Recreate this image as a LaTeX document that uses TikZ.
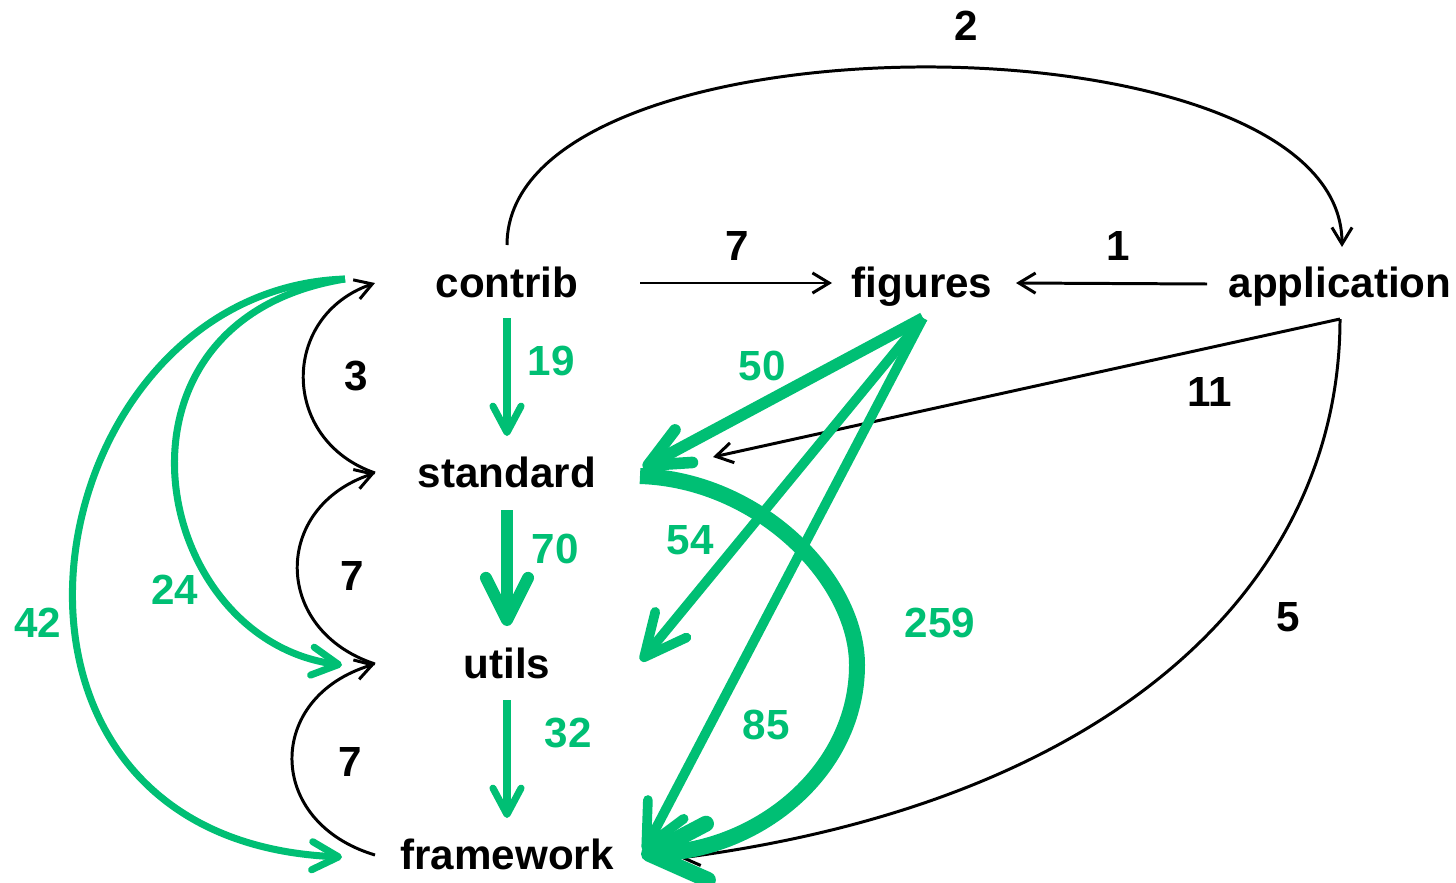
\documentclass[tikz,border=0pt]{standalone}
\usepackage{fontspec}
\setmainfont{Liberation Sans}
\usetikzlibrary{arrows.meta,calc}
\definecolor{grn}{RGB}{0,191,116}
\begin{document}
\begin{tikzpicture}[x=0.02cm,y=-0.02cm,
  lbl/.style={font=\fontsize{24}{28}\selectfont\bfseries, inner sep=0pt, text height=17pt, text depth=0pt},
  mod/.style={lbl},
  blab/.style={lbl, text=black},
  glab/.style={lbl, text=grn},
  blk/.style={draw=black, line width=1.7pt, -{Straight Barb[length=9.5pt,width=11.5pt]}},
  gA/.style={draw=grn, line width=4pt, -{Straight Barb[length=15pt,width=16pt,round]}},
  gB/.style={draw=grn, line width=5.5pt, -{Straight Barb[length=24pt,width=23pt,round]}},
  gC/.style={draw=grn, line width=6.6pt, -{Straight Barb[length=23pt,width=21pt,round]}},
  gD/.style={draw=grn, line width=6.8pt, -{Straight Barb[length=24pt,width=24pt,round]}},
  gE/.style={draw=grn, line width=9.1pt, -{Straight Barb[length=33pt,width=32pt,round]}}
]
\useasboundingbox (0,0) rectangle (1456,882);

% modules
\node[mod] (contrib)     at (507,283)  {contrib};
\node[mod] (figures)     at (922,283)  {figures};
\node[mod] (application) at (1340,283) {application};
\node[mod] (standard)    at (507,473)  {standard};
\node[mod] (utils)       at (507,664)  {utils};
\node[mod] (framework)   at (507,855)  {framework};

% black edges
\draw[blk] ($(contrib)+(133,0)$) -- ($(figures)+(-90,0)$);
\node[blab] (l7a) at (737,246) {7};
\draw[blk] ($(application)+(-133,1)$) -- ($(figures)+(94,0)$);
\node[blab] (l1) at (1118,246) {1};
\draw[blk] ($(contrib)+(0,-38)$) .. controls (507,8) and (1342,8) .. ($(application)+(2,-36)$);
\node[blab] (l2) at (966,26) {2};
\draw[blk] ($(standard)+(-132,0)$) .. controls (280,440) and (280,316) .. ($(contrib)+(-132,0)$);
\node[blab] (l3) at (356,376) {3};
\draw[blk] ($(utils)+(-132,0)$) .. controls (272,630) and (272,507) .. ($(standard)+(-132,0)$);
\node[blab] (l7b) at (352,576) {7};
\draw[blk] ($(framework)+(-132,0)$) .. controls (265,822) and (265,697) .. ($(utils)+(-132,0)$);
\node[blab] (l7c) at (350,762) {7};
\draw[blk] ($(application)+(0,36)$) -- ($(standard)+(206,-16)$);
\node[blab] (l11) at (1210,392) {11};
\draw[blk] ($(application)+(0,36)$) .. controls (1340,580) and (1120,800) .. ($(framework)+(173,3)$);
\node[blab] (l5) at (1288,617) {5};

% green edges
\draw[gA] ($(contrib)+(0,35)$) -- ($(standard)+(0,-37)$);
\node[glab] (l19) at (551,361) {19};
\draw[gD] ($(standard)+(0,37)$) -- ($(utils)+(0,-38)$);
\node[glab] (l70) at (555,549) {70};
\draw[gA] ($(utils)+(0,36)$) -- ($(framework)+(0,-37)$);
\node[glab] (l32) at (568,733) {32};
\draw[gA] ($(contrib)+(-162,-4)$) .. controls (90,320) and (150,640) .. ($(utils)+(-165,1)$);
\node[glab] (l24) at (175,590) {24};
\draw[gA] ($(contrib)+(-162,-4)$) .. controls (30,290) and (-60,840) .. ($(framework)+(-165,2)$);
\node[glab] (l42) at (38,623) {42};
\draw[gC] ($(figures)+(1,35)$) -- ($(standard)+(136,-5)$);
\node[glab] (l50) at (762,366) {50};
\draw[gB] ($(figures)+(1,35)$) -- ($(utils)+(134,-3)$);
\node[glab] (l54) at (690,540) {54};
\draw[gB] ($(figures)+(1,35)$) -- ($(framework)+(137,-4)$);
\node[glab] (l85) at (766,725) {85};
\draw[gE] ($(standard)+(133,3)$) .. controls (760,480) and (857,580) .. (857,665)
  .. controls (857,770) and (760,850) .. ($(framework)+(134,-1)$);
\node[glab] (l259) at (940,623) {259};
\end{tikzpicture}
\end{document}
